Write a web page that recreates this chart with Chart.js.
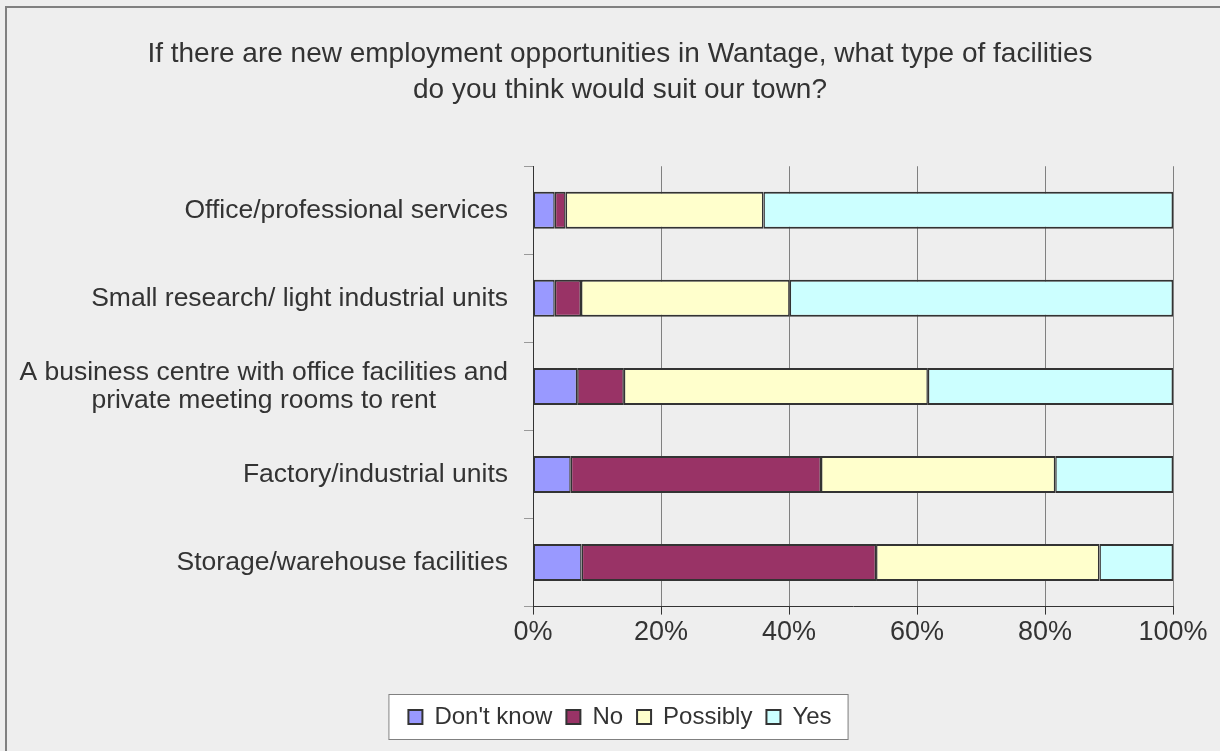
<!DOCTYPE html>
<html>
<head>
<meta charset="utf-8">
<script src="https://cdn.jsdelivr.net/npm/chart.js@4.4.1/dist/chart.umd.min.js"></script>
<style>
  html, body { margin: 0; padding: 0; background: #eeeeee; }
</style>
</head>
<body>
<canvas id="myChart" width="1220" height="751"></canvas>
<script>
// survey answers, percent of respondents per facility type
const categories = [
    ['Office/professional services'],
    ['Small research/ light industrial units'],
    ['A business centre with office facilities and', 'private meeting rooms to rent'],
    ['Factory/industrial units'],
    ['Storage/warehouse facilities']
];
const dontKnow = [3.4, 3.4, 6.9, 5.9, 7.6];
const no = [1.7, 4.1, 7.3, 39.1, 46.0];
const possibly = [30.9, 32.6, 47.5, 36.6, 34.9];
const yes = [64.0, 59.9, 38.3, 18.4, 11.5];
const seriesNames = ["Don't know", 'No', 'Possibly', 'Yes'];
const seriesColors = ['#9999ff', '#993366', '#ffffcc', '#ccffff'];
const tickLabels = ['0%', '20%', '40%', '60%', '80%', '100%'];

const FONT = "'Liberation Sans', Arial, sans-serif";
const TEXT = '#333333';

// grey page, frame line and the white legend box
const backdrop = {
    id: 'backdrop',
    beforeDraw(chart) {
        const ctx = chart.ctx;
        ctx.save();
        ctx.fillStyle = '#eeeeee';
        ctx.fillRect(0, 0, chart.width, chart.height);
        ctx.strokeStyle = '#808080';
        ctx.lineWidth = 2;
        ctx.strokeRect(6, 7, chart.width + 10, chart.height + 10);

        const boxes = chart.legend.legendHitBoxes;
        if (boxes && boxes.length) {
            const left = Math.min(...boxes.map(b => b.left)) - 20;
            const right = Math.max(...boxes.map(b => b.left + b.width)) + 16;
            const top = Math.min(...boxes.map(b => b.top)) - 11;
            const bottom = Math.max(...boxes.map(b => b.top + b.height)) + 10;
            ctx.fillStyle = '#ffffff';
            ctx.fillRect(left, top, right - left, bottom - top);
            ctx.strokeStyle = '#808080';
            ctx.lineWidth = 1;
            ctx.strokeRect(left + 0.5, top + 0.5, right - left, bottom - top);
        }
        ctx.restore();
    }
};

// category names, lines centred on each other and set against the axis
const categoryNames = {
    id: 'categoryNames',
    afterDraw(chart) {
        const ctx = chart.ctx;
        const y = chart.scales.y;
        const edge = chart.chartArea.left - 25;
        ctx.save();
        ctx.font = '26.5px ' + FONT;
        ctx.fillStyle = TEXT;
        ctx.textAlign = 'center';
        ctx.textBaseline = 'middle';
        const lh = 28;
        categories.forEach((lines, i) => {
            const w = Math.max(...lines.map(l => ctx.measureText(l).width));
            const cx = edge - w / 2;
            const cy = y.getPixelForValue(i);
            lines.forEach((l, j) => {
                ctx.fillText(l, cx, cy + (j - (lines.length - 1) / 2) * lh);
            });
        });
        ctx.restore();
    }
};

const series = [dontKnow, no, possibly, yes];

new Chart(document.getElementById('myChart'), {
    type: 'bar',
    data: {
        labels: categories.map(c => c.join(' ')),
        datasets: series.map((vals, i) => ({
            label: seriesNames[i],
            data: vals,
            backgroundColor: seriesColors[i],
            borderColor: '#333333',
            borderWidth: {top: 2, bottom: 2, left: 1.5, right: 1.5},
            borderSkipped: false,
            categoryPercentage: 1,
            barPercentage: 0.42
        }))
    },
    options: {
        indexAxis: 'y',
        responsive: false,
        animation: false,
        layout: {
            padding: {top: 10, left: 67, right: 47, bottom: 12}
        },
        scales: {
            x: {
                stacked: true,
                min: 0,
                max: 100,
                ticks: {
                    stepSize: 20,
                    color: TEXT,
                    font: {family: FONT, size: 27},
                    padding: 2,
                    callback: (v, i) => tickLabels[i]
                },
                grid: {
                    color: '#808080',
                    lineWidth: 1,
                    tickLength: 8,
                    tickColor: '#333333'
                },
                border: {color: '#333333', width: 1},
                afterFit(scale) {
                    scale.height += 40;
                }
            },
            y: {
                stacked: true,
                ticks: {display: false},
                grid: {
                    offset: true,
                    drawOnChartArea: false,
                    tickLength: 9,
                    color: '#999999'
                },
                border: {color: '#333333', width: 1},
                afterFit(scale) {
                    scale.width = 466;
                }
            }
        },
        plugins: {
            title: {
                display: true,
                text: ['If there are new employment opportunities in Wantage, what type of facilities',
                       'do you think would suit our town?'],
                color: TEXT,
                font: {family: FONT, size: 28, weight: 'normal', lineHeight: 1.29},
                padding: {top: 26, bottom: 58}
            },
            legend: {
                position: 'bottom',
                labels: {
                    color: TEXT,
                    font: {family: FONT, size: 24},
                    boxWidth: 14,
                    boxHeight: 14,
                    padding: 14,
                    generateLabels(chart) {
                        return chart.data.datasets.map((ds, i) => ({
                            text: ds.label,
                            fillStyle: ds.backgroundColor,
                            strokeStyle: '#333333',
                            lineWidth: 2,
                            fontColor: TEXT,
                            datasetIndex: i
                        }));
                    }
                }
            },
            tooltip: {enabled: false}
        }
    },
    plugins: [backdrop, categoryNames]
});
</script>
</body>
</html>
